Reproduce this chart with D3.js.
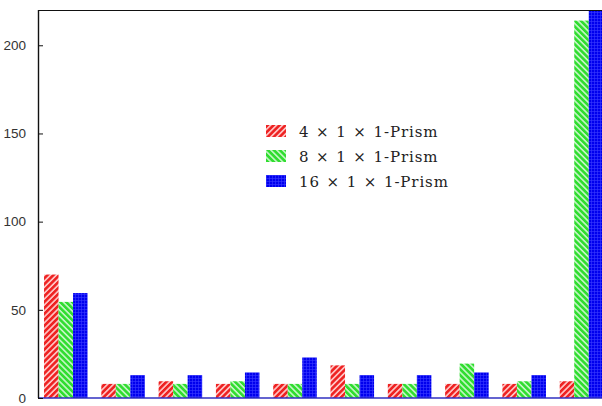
<!DOCTYPE html>
<html>
<head>
<meta charset="utf-8">
<script src="https://cdn.jsdelivr.net/npm/d3@7"></script>
<style>
  body { margin: 0; background: #fff; }
  svg { display: block; }
</style>
</head>
<body>
<div id="chart"></div>
<script>
// data
const groups = ["g1", "g2", "g3", "g4", "g5", "g6", "g7", "g8", "g9", "g10"];
const seriesNames = ["4 \u00d7 1 \u00d7 1-Prism", "8 \u00d7 1 \u00d7 1-Prism", "16 \u00d7 1 \u00d7 1-Prism"];
const prism4 = [70, 8, 9.5, 8, 8, 18.5, 8, 8, 8, 9.5];
const prism8 = [54.5, 8, 8, 9.5, 8, 8, 8, 19.5, 9.5, 214];
const prism16 = [59.5, 13, 13, 14.5, 23, 13, 13, 14.5, 13, 240];
const yTicks = [0, 50, 100, 150, 200];

const width = 602, height = 406;
const margin = { top: 10, left: 38, bottom: 8 };

const svg = d3.select("#chart").append("svg")
  .attr("width", width)
  .attr("height", height);

const defs = svg.append("defs");

// hatch patterns like the original gnuplot fills
function hatch(id, bg, fg, angle) {
  const p = defs.append("pattern")
    .attr("id", id)
    .attr("patternUnits", "userSpaceOnUse")
    .attr("width", 4.2)
    .attr("height", 4.2)
    .attr("patternTransform", `rotate(${angle})`);
  p.append("rect").attr("width", 4.2).attr("height", 4.2).attr("fill", bg);
  p.append("rect").attr("width", 2.6).attr("height", 4.2).attr("fill", fg);
}
hatch("pat-red", "#ffc8c8", "#ee2222", 45);
hatch("pat-green", "#c6f6c6", "#30dd30", -45);

const grid = defs.append("pattern")
  .attr("id", "pat-blue")
  .attr("patternUnits", "userSpaceOnUse")
  .attr("width", 3)
  .attr("height", 3);
grid.append("rect").attr("width", 3).attr("height", 3).attr("fill", "#0000ee");
grid.append("rect").attr("width", 3).attr("height", 0.6).attr("fill", "#3a3aff");
grid.append("rect").attr("width", 0.6).attr("height", 3).attr("fill", "#3a3aff");

const fills = ["url(#pat-red)", "url(#pat-green)", "url(#pat-blue)"];
const allSeries = [prism4, prism8, prism16];

const y = d3.scaleLinear()
  .domain([0, 220])
  .range([height - margin.bottom, margin.top]);

const x0 = d3.scaleBand()
  .domain(groups)
  .range([margin.left, margin.left + 57.3 * 9.97])
  .paddingInner(0.24)
  .paddingOuter(0.105);

const x1 = d3.scaleBand()
  .domain(d3.range(seriesNames.length))
  .range([0, x0.bandwidth()]);

defs.append("clipPath").attr("id", "plot-clip")
  .append("rect")
  .attr("x", margin.left)
  .attr("y", margin.top)
  .attr("width", width - margin.left)
  .attr("height", y(0) - margin.top);

const bars = svg.append("g").attr("clip-path", "url(#plot-clip)");

const rows = [];
groups.forEach((g, i) => {
  allSeries.forEach((s, j) => rows.push({ group: g, series: j, value: s[i] }));
});

bars.selectAll("rect")
  .data(rows)
  .join("rect")
    .attr("x", d => x0(d.group) + x1(d.series))
    .attr("y", d => y(d.value))
    .attr("width", x1.bandwidth())
    .attr("height", d => y(0) - y(d.value))
    .attr("fill", d => fills[d.series]);

// frame: top border and baseline
svg.append("line")
  .attr("x1", margin.left).attr("x2", width)
  .attr("y1", margin.top + 0.5).attr("y2", margin.top + 0.5)
  .attr("stroke", "#111").attr("stroke-width", 1.2);

svg.append("line")
  .attr("x1", margin.left).attr("x2", width)
  .attr("y1", y(0)).attr("y2", y(0))
  .attr("stroke", "#3030c0").attr("stroke-width", 1.5);

// y axis, ticks pointing inward
const yAxis = svg.append("g")
  .attr("transform", `translate(${margin.left},0)`)
  .call(d3.axisLeft(y).tickValues(yTicks).tickSizeInner(-5).tickSizeOuter(0).tickPadding(12));

yAxis.select(".domain").attr("stroke", "#111").attr("stroke-width", 1.4)
  .attr("d", `M0.5,${margin.top}V${y(0)}`);
yAxis.selectAll(".tick line").attr("stroke", "#111");
yAxis.selectAll(".tick text")
  .attr("fill", "#333")
  .style("font-family", "'Liberation Sans', Arial, sans-serif")
  .style("font-size", "13.5px");

// legend
const legend = svg.append("g").attr("transform", "translate(266,125)");
const legendRows = legend.selectAll("g")
  .data(seriesNames)
  .join("g")
    .attr("transform", (d, i) => `translate(0,${i * 25})`);

legendRows.append("rect")
  .attr("width", 20)
  .attr("height", 12)
  .attr("fill", (d, i) => fills[i]);

legendRows.append("text")
  .attr("x", 33)
  .attr("y", 11.5)
  .attr("fill", "#222")
  .style("font-family", "'DejaVu Serif', 'Liberation Serif', serif")
  .style("font-size", "15px")
  .style("letter-spacing", "0.9px")
  .style("word-spacing", "1px")
  .text(d => d);
</script>
</body>
</html>
